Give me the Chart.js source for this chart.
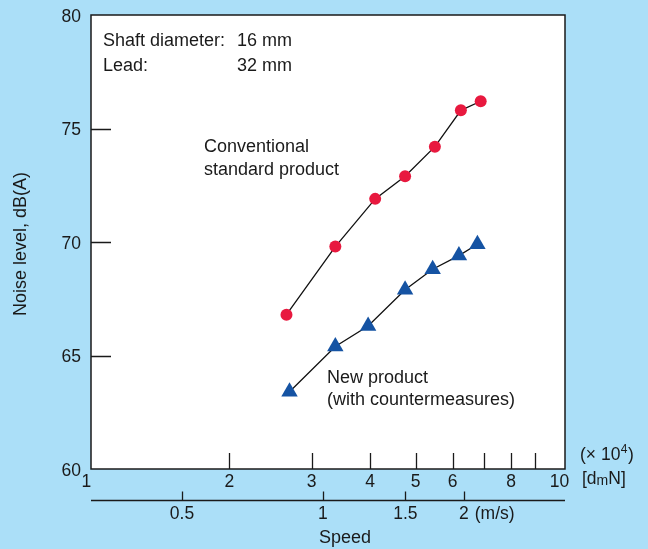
<!DOCTYPE html>
<html>
<head>
<meta charset="utf-8">
<script src="https://cdn.jsdelivr.net/npm/chart.js@4.4.1/dist/chart.umd.min.js"></script>
<style>
  html, body { margin: 0; padding: 0; background: #abdff8; }
  #wrap { width: 648px; height: 549px; }
</style>
</head>
<body>
<div id="wrap"><canvas id="noiseChart" width="648" height="549"></canvas></div>
<script>
// values (x in x10^4 dmN, y in dB(A))
const conventionalX = [2.65, 3.37, 4.10, 4.75, 5.50, 6.25, 6.89]
const conventionalY = [66.8, 69.8, 71.9, 72.9, 74.2, 75.8, 76.2]
const newProductX = [2.69, 3.37, 3.96, 4.75, 5.44, 6.19, 6.78]
const newProductY = [63.4, 65.4, 66.3, 67.9, 68.8, 69.4, 69.9]

const dmnLabels = [1, 2, 3, 4, 5, 6, 8, 10]
const dmnTickMarks = [2, 3, 4, 5, 6, 7, 8, 9]
const speedTicks = [0.5, 1, 1.5, 2]
const speedToDmn = 3.17 // 1 m/s is about 3.17 x10^4 dmN
const noiseTicks = [60, 65, 70, 75, 80]
const noiseTickMarks = [65, 70, 75]

const X_MIN = 1.0129
const X_MAX = 10.432
const FONT = '"Liberation Sans", Arial, Helvetica, sans-serif'

const toPoints = (xs, ys) => xs.map((x, i) => ({ x, y: ys[i] }))

const text = (ctx, str, x, y, size, align = 'left') => {
  ctx.font = `${size}px ${FONT}`
  ctx.textAlign = align
  ctx.textBaseline = 'middle'
  ctx.fillText(str, x, y)
  return ctx.measureText(str).width
}

const frame = {
  id: 'frame',
  beforeDatasetsDraw(chart) {
    const { ctx, chartArea: a, scales } = chart
    const xs = scales.x
    const ys = scales.y
    ctx.save()
    ctx.fillStyle = '#fff'
    ctx.fillRect(a.left, a.top, a.right - a.left, a.bottom - a.top)

    ctx.strokeStyle = '#1a1a1a'
    ctx.lineWidth = 1.5
    ctx.strokeRect(a.left, a.top, a.right - a.left, a.bottom - a.top)

    ctx.lineWidth = 1.3
    ctx.beginPath()
    // inner ticks on the dmN axis
    dmnTickMarks.forEach((v) => {
      const px = Math.round(xs.getPixelForValue(v)) + 0.5
      ctx.moveTo(px, a.bottom)
      ctx.lineTo(px, a.bottom - 16)
    })
    // inner ticks on the noise axis
    noiseTickMarks.forEach((v) => {
      const py = Math.round(ys.getPixelForValue(v)) + 0.5
      ctx.moveTo(a.left, py)
      ctx.lineTo(a.left + 20, py)
    })
    // speed axis under the plot
    const speedY = a.bottom + 31.5
    ctx.moveTo(a.left, speedY)
    ctx.lineTo(a.right, speedY)
    speedTicks.forEach((s) => {
      const px = Math.round(xs.getPixelForValue(s * speedToDmn)) + 0.5
      ctx.moveTo(px, speedY)
      ctx.lineTo(px, speedY - 9)
    })
    ctx.stroke()

    ctx.fillStyle = '#1a1a1a'
    dmnLabels.forEach((v) => {
      // end labels sit a little outside in the original
      const nudge = v === 1 ? -2 : v === 10 ? 3 : 0
      text(ctx, String(v), xs.getPixelForValue(v) + nudge, a.bottom + 13, 17.5, 'center')
    })
    noiseTicks.forEach((v) => {
      text(ctx, String(v), a.left - 10, ys.getPixelForValue(v) + 2, 17.5, 'right')
    })
    speedTicks.forEach((s) => {
      text(ctx, String(s), xs.getPixelForValue(s * speedToDmn), speedY + 14, 17.5, 'center')
    })
    text(ctx, '(m/s)', xs.getPixelForValue(2 * speedToDmn) + 11, speedY + 14, 17.5)

    // unit label at the right of the dmN axis
    let ux = a.right + 15
    ux += text(ctx, '(\u00d7 10', ux, a.bottom - 14, 17.5)
    ux += text(ctx, '4', ux + 0.5, a.bottom - 19, 12)
    text(ctx, ')', ux + 1, a.bottom - 14, 17.5)
    ux = a.right + 17
    ux += text(ctx, '[d', ux, a.bottom + 10, 17.5)
    ux += text(ctx, 'm', ux, a.bottom + 12, 14)
    text(ctx, 'N]', ux, a.bottom + 10, 17.5)

    text(ctx, 'Speed', (a.left + a.right) / 2 + 17, a.bottom + 69, 18, 'center')

    ctx.translate(21, (a.top + a.bottom) / 2 + 2)
    ctx.rotate(-Math.PI / 2)
    text(ctx, 'Noise level, dB(A)', 0, 0, 18, 'center')
    ctx.restore()
  },
  afterDatasetsDraw(chart) {
    const { ctx } = chart
    ctx.save()
    ctx.fillStyle = '#1a1a1a'
    text(ctx, 'Shaft diameter:', 103, 41, 18)
    text(ctx, '16 mm', 237, 41, 18)
    text(ctx, 'Lead:', 103, 66, 18)
    text(ctx, '32 mm', 237, 66, 18)
    text(ctx, 'Conventional', 204, 147, 18)
    text(ctx, 'standard product', 204, 170, 18)
    text(ctx, 'New product', 327, 378, 18)
    text(ctx, '(with countermeasures)', 327, 400, 18)
    ctx.restore()
  },
}

new Chart(document.getElementById('noiseChart'), {
  type: 'line',
  data: {
    datasets: [
      {
        label: 'Conventional standard product',
        data: toPoints(conventionalX, conventionalY),
        borderColor: '#111',
        borderWidth: 1.3,
        pointStyle: 'circle',
        pointRadius: 6,
        pointBorderWidth: 0,
        pointBackgroundColor: '#e8193f',
        tension: 0,
      },
      {
        label: 'New product (with countermeasures)',
        data: toPoints(newProductX, newProductY),
        borderColor: '#111',
        borderWidth: 1.3,
        pointStyle: 'triangle',
        pointRadius: 9.5,
        pointBorderWidth: 0,
        pointBackgroundColor: '#1553a3',
        tension: 0,
      },
    ],
  },
  options: {
    responsive: false,
    devicePixelRatio: 1,
    animation: false,
    events: [],
    layout: { padding: { left: 91, right: 83, top: 15, bottom: 80 } },
    scales: {
      x: { type: 'logarithmic', min: X_MIN, max: X_MAX, bounds: 'data', display: false },
      y: { type: 'linear', min: 60, max: 80, display: false },
    },
    plugins: {
      legend: { display: false },
      tooltip: { enabled: false },
    },
  },
  plugins: [frame],
})
</script>
</body>
</html>
